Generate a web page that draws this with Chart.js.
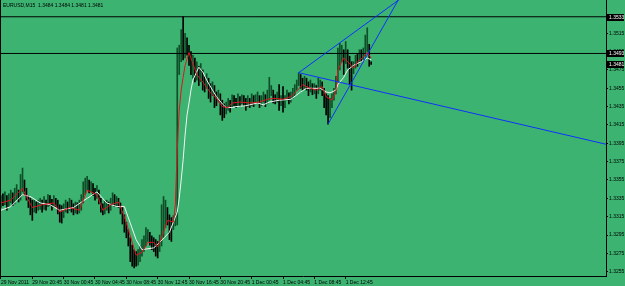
<!DOCTYPE html>
<html><head><meta charset="utf-8">
<script src="https://cdn.jsdelivr.net/npm/chart.js@4.4.1/dist/chart.umd.min.js"></script>
<style>html,body{margin:0;padding:0;background:#3CB371;overflow:hidden}#wrap{width:625px;height:286px}</style>
</head><body><div id="wrap"><canvas id="c" width="625" height="286"></canvas></div>
<script>
const chartTitle = "EURUSD,M15  1.3484 1.3484 1.3481 1.3481";
const timeTickIndex = [0,16,32,48,64,80,96,112,128,144,160,176];
const timeTickLabels = ["29 Nov 2011","29 Nov 20:45","30 Nov 00:45","30 Nov 04:45","30 Nov 08:45","30 Nov 12:45","30 Nov 16:45","30 Nov 20:45","1 Dec 00:45","1 Dec 04:45","1 Dec 08:45","1 Dec 12:45"];
const priceTicks = [1.3255,1.3275,1.3295,1.3315,1.3335,1.3355,1.3375,1.3395,1.3415,1.3435,1.3455,1.3475,1.3495,1.3515];

const barOpen = [
1.3328,1.3333,1.3330,1.3335,1.3328,1.3333,1.3338,1.3331,1.3334,1.3339,
1.3335,1.3344,1.3350,1.3342,1.3335,1.3329,1.3326,1.3322,1.3328,1.3325,
1.3327,1.3329,1.3326,1.3331,1.3328,1.3333,1.3330,1.3327,1.3332,1.3329,
1.3325,1.3320,1.3317,1.3322,1.3327,1.3323,1.3329,1.3325,1.3321,1.3326,
1.3322,1.3325,1.3333,1.3342,1.3349,1.3351,1.3346,1.3349,1.3344,1.3339,
1.3342,1.3333,1.3325,1.3320,1.3327,1.3329,1.3325,1.3330,1.3333,1.3329,
1.3332,1.3329,1.3322,1.3311,1.3303,1.3295,1.3288,1.3279,1.3273,1.3270,
1.3266,1.3270,1.3277,1.3281,1.3285,1.3290,1.3294,1.3292,1.3285,1.3283,
1.3281,1.3279,1.3285,1.3294,1.3306,1.3320,1.3314,1.3309,1.3305,1.3307,
1.3311,1.3486,1.3491,1.3508,1.3497,1.3502,1.3497,1.3488,1.3477,1.3484,
1.3470,1.3475,1.3466,1.3473,1.3462,1.3458,1.3464,1.3453,1.3449,1.3455,
1.3447,1.3442,1.3447,1.3438,1.3431,1.3429,1.3434,1.3438,1.3436,1.3442,
1.3440,1.3438,1.3442,1.3439,1.3443,1.3440,1.3437,1.3441,1.3438,1.3442,
1.3439,1.3441,1.3444,1.3438,1.3442,1.3446,1.3440,1.3443,1.3449,1.3451,
1.3444,1.3442,1.3447,1.3438,1.3440,1.3436,1.3444,1.3448,1.3442,1.3447,
1.3449,1.3455,1.3460,1.3466,1.3462,1.3458,1.3464,1.3460,1.3453,1.3458,
1.3455,1.3456,1.3451,1.3458,1.3460,1.3453,1.3447,1.3442,1.3434,1.3438,
1.3444,1.3451,1.3464,1.3479,1.3488,1.3491,1.3484,1.3495,1.3486,1.3479,
1.3475,1.3479,1.3486,1.3484,1.3490,1.3488,1.3492,1.3497,1.3502,1.3484];
const barHigh = [
1.3338,1.3340,1.3342,1.3338,1.3340,1.3344,1.3341,1.3346,1.3350,1.3344,
1.3361,1.3368,1.3355,1.3346,1.3338,1.3335,1.3333,1.3333,1.3331,1.3333,
1.3335,1.3333,1.3337,1.3333,1.3339,1.3338,1.3334,1.3338,1.3335,1.3333,
1.3328,1.3327,1.3329,1.3333,1.3331,1.3335,1.3333,1.3329,1.3331,1.3330,
1.3333,1.3339,1.3353,1.3357,1.3359,1.3355,1.3353,1.3351,1.3346,1.3349,
1.3344,1.3335,1.3329,1.3333,1.3333,1.3331,1.3335,1.3341,1.3339,1.3337,
1.3335,1.3330,1.3325,1.3317,1.3309,1.3301,1.3292,1.3284,1.3279,1.3277,
1.3279,1.3283,1.3290,1.3294,1.3303,1.3301,1.3298,1.3294,1.3292,1.3290,
1.3288,1.3295,1.3328,1.3337,1.3333,1.3325,1.3317,1.3314,1.3316,1.3318,
1.3499,1.3502,1.3519,1.3533,1.3515,1.3510,1.3502,1.3495,1.3491,1.3488,
1.3484,1.3479,1.3482,1.3475,1.3468,1.3471,1.3466,1.3460,1.3462,1.3458,
1.3451,1.3453,1.3449,1.3442,1.3438,1.3440,1.3444,1.3442,1.3448,1.3447,
1.3444,1.3449,1.3446,1.3448,1.3447,1.3444,1.3447,1.3444,1.3449,1.3447,
1.3448,1.3451,1.3447,1.3447,1.3451,1.3448,1.3453,1.3467,1.3458,1.3453,
1.3448,1.3451,1.3459,1.3447,1.3457,1.3447,1.3453,1.3450,1.3451,1.3455,
1.3459,1.3464,1.3472,1.3470,1.3466,1.3468,1.3466,1.3462,1.3464,1.3460,
1.3460,1.3458,1.3466,1.3464,1.3462,1.3455,1.3449,1.3447,1.3444,1.3449,
1.3455,1.3468,1.3499,1.3504,1.3502,1.3497,1.3506,1.3497,1.3490,1.3484,
1.3484,1.3491,1.3492,1.3497,1.3497,1.3499,1.3513,1.3521,1.3503,1.3484];
const barLow = [
1.3325,1.3327,1.3328,1.3322,1.3326,1.3330,1.3327,1.3329,1.3333,1.3331,
1.3333,1.3342,1.3338,1.3333,1.3325,1.3317,1.3311,1.3320,1.3319,1.3322,
1.3323,1.3320,1.3323,1.3322,1.3326,1.3327,1.3322,1.3325,1.3326,1.3318,
1.3309,1.3308,1.3314,1.3320,1.3319,1.3322,1.3320,1.3317,1.3319,1.3318,
1.3319,1.3322,1.3330,1.3339,1.3344,1.3341,1.3342,1.3338,1.3333,1.3335,
1.3329,1.3320,1.3317,1.3318,1.3322,1.3319,1.3322,1.3328,1.3326,1.3327,
1.3325,1.3318,1.3307,1.3298,1.3292,1.3283,1.3266,1.3261,1.3259,1.3261,
1.3262,1.3266,1.3272,1.3277,1.3283,1.3288,1.3284,1.3279,1.3277,1.3272,
1.3270,1.3277,1.3283,1.3292,1.3303,1.3306,1.3290,1.3288,1.3301,1.3305,
1.3306,1.3470,1.3484,1.3486,1.3488,1.3491,1.3480,1.3470,1.3466,1.3462,
1.3464,1.3458,1.3462,1.3453,1.3451,1.3455,1.3444,1.3440,1.3447,1.3434,
1.3436,1.3440,1.3426,1.3420,1.3423,1.3427,1.3431,1.3429,1.3434,1.3436,
1.3434,1.3436,1.3435,1.3438,1.3436,1.3431,1.3435,1.3434,1.3436,1.3435,
1.3438,1.3439,1.3434,1.3436,1.3440,1.3435,1.3438,1.3442,1.3447,1.3439,
1.3438,1.3440,1.3431,1.3436,1.3429,1.3434,1.3442,1.3438,1.3440,1.3444,
1.3447,1.3453,1.3458,1.3455,1.3453,1.3455,1.3453,1.3447,1.3451,1.3448,
1.3449,1.3444,1.3449,1.3453,1.3447,1.3434,1.3426,1.3416,1.3423,1.3434,
1.3442,1.3449,1.3462,1.3475,1.3484,1.3470,1.3482,1.3477,1.3459,1.3453,
1.3471,1.3477,1.3479,1.3482,1.3484,1.3486,1.3490,1.3495,1.3479,1.3481];
const barClose = [
1.3333,1.3330,1.3335,1.3328,1.3333,1.3338,1.3331,1.3334,1.3339,1.3335,
1.3344,1.3350,1.3342,1.3335,1.3329,1.3326,1.3322,1.3328,1.3325,1.3327,
1.3329,1.3326,1.3331,1.3328,1.3333,1.3330,1.3327,1.3332,1.3329,1.3325,
1.3320,1.3317,1.3322,1.3327,1.3323,1.3329,1.3325,1.3321,1.3326,1.3322,
1.3325,1.3333,1.3342,1.3349,1.3351,1.3346,1.3349,1.3344,1.3339,1.3342,
1.3333,1.3325,1.3320,1.3327,1.3329,1.3325,1.3330,1.3333,1.3329,1.3332,
1.3329,1.3322,1.3311,1.3303,1.3295,1.3288,1.3279,1.3273,1.3270,1.3266,
1.3270,1.3277,1.3281,1.3285,1.3290,1.3294,1.3292,1.3285,1.3283,1.3281,
1.3279,1.3285,1.3294,1.3306,1.3320,1.3314,1.3309,1.3305,1.3307,1.3311,
1.3486,1.3491,1.3508,1.3497,1.3502,1.3497,1.3488,1.3477,1.3484,1.3470,
1.3475,1.3466,1.3473,1.3462,1.3458,1.3464,1.3453,1.3449,1.3455,1.3447,
1.3442,1.3447,1.3438,1.3431,1.3429,1.3434,1.3438,1.3436,1.3442,1.3440,
1.3438,1.3442,1.3439,1.3443,1.3440,1.3437,1.3441,1.3438,1.3442,1.3439,
1.3441,1.3444,1.3438,1.3442,1.3446,1.3440,1.3443,1.3449,1.3451,1.3444,
1.3442,1.3447,1.3438,1.3440,1.3436,1.3444,1.3448,1.3442,1.3447,1.3449,
1.3455,1.3460,1.3466,1.3462,1.3458,1.3464,1.3460,1.3453,1.3458,1.3455,
1.3456,1.3451,1.3458,1.3460,1.3453,1.3447,1.3442,1.3434,1.3438,1.3444,
1.3451,1.3464,1.3479,1.3488,1.3491,1.3484,1.3495,1.3486,1.3479,1.3475,
1.3479,1.3486,1.3484,1.3490,1.3488,1.3492,1.3497,1.3502,1.3484,1.3481];

const fastMaIndex = [0,5,11,13,16,21,27,30,35,40,44,49,52,56,60,63,67,69,72,75,78,80,83,85,88,89,90,91,92,93,94,96,100,103,107,110,113,116,118,122,127,132,136,139,144,148,151,154,158,161,164,166,169,171,172,175,177,180,182,185,187,189];
const fastMaValue = [1.3330,1.3333,1.3346,1.3337,1.3325,1.3328,1.3330,1.3320,1.3325,1.3322,1.3344,1.3339,1.3322,1.3328,1.3331,1.3315,1.3287,1.3273,1.3276,1.3287,1.3287,1.3282,1.3298,1.3311,1.3309,1.3328,1.3388,1.3431,1.3453,1.3467,1.3480,1.3494,1.3470,1.3462,1.3450,1.3444,1.3435,1.3434,1.3439,1.3440,1.3439,1.3440,1.3443,1.3444,1.3443,1.3446,1.3452,1.3459,1.3455,1.3453,1.3457,1.3446,1.3442,1.3451,1.3475,1.3488,1.3484,1.3477,1.3484,1.3489,1.3494,1.3488];
const slowMaIndex = [0,5,11,15,20,25,30,37,44,49,54,59,63,66,69,72,78,81,86,90,91,92,93,94,95,96,97,98,101,103,105,108,110,113,115,118,120,125,127,131,134,137,142,148,153,156,159,163,166,168,171,172,175,177,180,182,184,187,189];
const slowMaValue = [1.3322,1.3326,1.3339,1.3337,1.3330,1.3328,1.3322,1.3325,1.3335,1.3342,1.3330,1.3326,1.3326,1.3308,1.3290,1.3279,1.3281,1.3287,1.3298,1.3320,1.3335,1.3355,1.3377,1.3404,1.3426,1.3439,1.3453,1.3464,1.3478,1.3473,1.3464,1.3453,1.3446,1.3438,1.3434,1.3434,1.3435,1.3436,1.3437,1.3439,1.3437,1.3440,1.3442,1.3443,1.3451,1.3455,1.3455,1.3455,1.3451,1.3450,1.3453,1.3459,1.3467,1.3475,1.3480,1.3482,1.3484,1.3488,1.3486];

const levelPrices = [1.3533, 1.3493];
const bidPrice = 1.3481;
const trendUpperX = [152, 203.5], trendUpperY = [1.3472, 1.3552];
const trendLowerX = [167, 203],   trendLowerY = [1.3416, 1.3552];
const trendFallX  = [152, 308.9], trendFallY  = [1.3472, 1.3394];

const X_MIN = -0.5, X_MAX = 308.9, Y_MIN = 1.32503, Y_MAX = 1.35513;
const FONT = '"Liberation Sans", Arial, sans-serif';
const BULL = '#0f4f28', BEAR = '#000000';

const pts = (xs, ys) => xs.map((x, i) => ({x, y: ys[i]}));
const candleData = barHigh.map((h, i) => ({x: i, y: [barLow[i], h]}));
const candleColors = barClose.map((c, i) => c >= barOpen[i] ? BULL : BEAR);

const lineDs = (data, color, order) => ({type: 'line', data, borderColor: color, borderWidth: 1, pointRadius: 0, tension: 0, order, fill: false});

const deco = {
  id: 'deco',
  beforeDraw(chart) {
    const ctx = chart.ctx; ctx.save();
    ctx.fillStyle = '#3CB371'; ctx.fillRect(0, 0, chart.width, chart.height);
    ctx.restore();
  },
  afterDraw(chart) {
    const ctx = chart.ctx, ys = chart.scales.y, a = chart.chartArea;
    ctx.save();
    ctx.fillStyle = '#000';
    ctx.fillRect(0, 0, 1, a.bottom);
    ctx.font = '5px ' + FONT;
    ctx.textBaseline = 'middle';
    [...levelPrices, bidPrice].forEach(p => {
      const py = Math.round(ys.getPixelForValue(p));
      ctx.fillStyle = '#000';
      ctx.fillRect(a.right + 1, py - 3, 17, 7);
      ctx.fillStyle = '#fff';
      ctx.fillText(p.toFixed(4), a.right + 3, py + 0.5);
    });
    ctx.fillStyle = '#000';
    ctx.fillText(chartTitle, 3, 5.5);
    ctx.restore();
  }
};

new Chart(document.getElementById('c'), {
  type: 'bar',
  data: {
    datasets: [
      {type: 'bar', data: candleData, backgroundColor: candleColors, barThickness: 1, grouped: false, order: 5},
      lineDs(pts(slowMaIndex, slowMaValue), '#f4f4f4', 3),
      lineDs(pts(fastMaIndex, fastMaValue), '#e0141e', 2),
      lineDs(pts([X_MIN, X_MAX], [levelPrices[0], levelPrices[0]]), '#000', 4),
      lineDs(pts([X_MIN, X_MAX], [levelPrices[1], levelPrices[1]]), '#000', 4),
      lineDs(pts(trendUpperX, trendUpperY), '#1030ff', 1),
      lineDs(pts(trendLowerX, trendLowerY), '#1030ff', 1),
      lineDs(pts(trendFallX, trendFallY), '#1030ff', 1)
    ]
  },
  options: {
    responsive: false, animation: false, devicePixelRatio: 1,
    layout: {padding: 0},
    plugins: {legend: {display: false}, tooltip: {enabled: false}, title: {display: false}},
    scales: {
      x: {
        type: 'linear', min: X_MIN, max: X_MAX, offset: false, position: 'bottom',
        afterFit(s) { s.height = 10; s.paddingLeft = 0; s.paddingRight = 0; },
        afterBuildTicks(s) { s.ticks = timeTickIndex.map(v => ({value: v})); },
        ticks: {
          callback: (v) => { const k = timeTickIndex.indexOf(v); return k >= 0 ? timeTickLabels[k] : ''; },
          align: 'start', autoSkip: false, maxRotation: 0, minRotation: 0,
          font: {size: 5, family: FONT}, color: '#000', padding: 1
        },
        grid: {display: true, drawOnChartArea: false, drawTicks: true, tickLength: 3, color: '#000', offset: false},
        border: {display: true, color: '#000'}
      },
      y: {
        type: 'linear', position: 'right', min: Y_MIN, max: Y_MAX, beginAtZero: false,
        afterFit(s) { s.width = 19; s.paddingTop = 0; s.paddingBottom = 0; },
        afterBuildTicks(s) { s.ticks = priceTicks.map(v => ({value: v})); },
        ticks: {
          callback: (v) => Number(v).toFixed(4), autoSkip: false,
          font: {size: 5, family: FONT}, color: '#000', padding: 1
        },
        grid: {display: true, drawOnChartArea: false, drawTicks: true, tickLength: 2, color: '#000'},
        border: {display: true, color: '#000'}
      }
    }
  },
  plugins: [deco]
});
</script>
</body></html>
